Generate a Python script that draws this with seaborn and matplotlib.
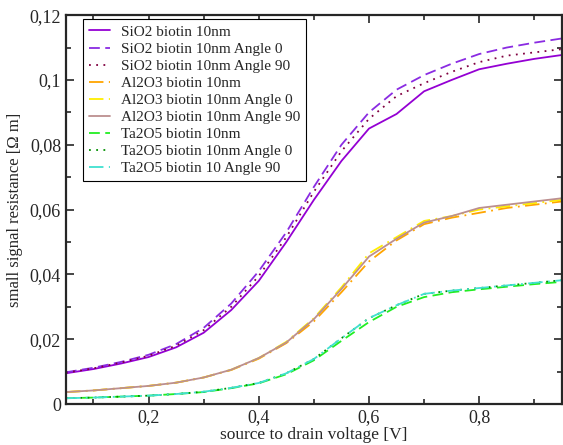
import numpy as np
import pandas as pd
import matplotlib
matplotlib.use("Agg")
import matplotlib.pyplot as plt
from matplotlib.ticker import MultipleLocator, FuncFormatter
import seaborn as sns

# voltage grid
voltage = [0.05, 0.10, 0.15, 0.20, 0.25, 0.30, 0.35, 0.40, 0.45, 0.50,
           0.55, 0.60, 0.65, 0.70, 0.75, 0.80, 0.85, 0.90, 0.95]

sio2 = [0.0095, 0.0108, 0.0125, 0.0145, 0.0175, 0.0220, 0.0290, 0.0380, 0.0500, 0.0630,
        0.0750, 0.0850, 0.0895, 0.0965, 0.1000, 0.1033, 0.1050, 0.1065, 0.1077]
sio2_a0 = [0.0098, 0.0112, 0.0130, 0.0152, 0.0185, 0.0235, 0.0310, 0.0410, 0.0530, 0.0670,
           0.0800, 0.0900, 0.0970, 0.1015, 0.1050, 0.1080, 0.1100, 0.1115, 0.1128]
sio2_a90 = [0.0097, 0.0110, 0.0128, 0.0149, 0.0180, 0.0228, 0.0300, 0.0395, 0.0515, 0.0655,
            0.0780, 0.0880, 0.0950, 0.0990, 0.1025, 0.1055, 0.1075, 0.1085, 0.1095]

al2o3 = [0.0037, 0.0042, 0.0049, 0.0056, 0.0066, 0.0082, 0.0105, 0.0140, 0.0188, 0.0255,
         0.0345, 0.0440, 0.0505, 0.0555, 0.0575, 0.0590, 0.0605, 0.0615, 0.0625]
al2o3_a0 = [0.0037, 0.0042, 0.0049, 0.0056, 0.0066, 0.0082, 0.0106, 0.0142, 0.0192, 0.0265,
            0.0360, 0.0465, 0.0515, 0.0565, 0.0580, 0.0600, 0.0610, 0.0620, 0.0630]
al2o3_a90 = [0.0037, 0.0042, 0.0049, 0.0056, 0.0066, 0.0082, 0.0106, 0.0142, 0.0190, 0.0262,
             0.0355, 0.0455, 0.0510, 0.0560, 0.0580, 0.0605, 0.0615, 0.0625, 0.0635]

ta2o5 = [0.0018, 0.0020, 0.0023, 0.0026, 0.0031, 0.0037, 0.0049, 0.0064, 0.0092, 0.0135,
         0.0195, 0.0253, 0.0300, 0.0330, 0.0345, 0.0354, 0.0362, 0.0370, 0.0377]
ta2o5_a0 = [0.0018, 0.0020, 0.0023, 0.0026, 0.0031, 0.0038, 0.0050, 0.0065, 0.0095, 0.0139,
            0.0203, 0.0265, 0.0305, 0.0340, 0.0350, 0.0358, 0.0366, 0.0374, 0.0382]
ta2o5_a90 = [0.0018, 0.0020, 0.0023, 0.0026, 0.0031, 0.0038, 0.0050, 0.0065, 0.0095, 0.0139,
             0.0203, 0.0265, 0.0305, 0.0340, 0.0350, 0.0358, 0.0366, 0.0374, 0.0382]

labels = ["SiO2 biotin 10nm", "SiO2 biotin 10nm Angle 0", "SiO2 biotin 10nm Angle 90",
          "Al2O3 biotin 10nm", "Al2O3 biotin 10nm Angle 0", "Al2O3 biotin 10nm Angle 90",
          "Ta2O5 biotin 10nm", "Ta2O5 biotin 10nm Angle 0", "Ta2O5 biotin 10 Angle 90"]
series = [sio2, sio2_a0, sio2_a90, al2o3, al2o3_a0, al2o3_a90, ta2o5, ta2o5_a0, ta2o5_a90]

colors = ["#9400d3", "#8a2be2", "#800040",
          "#ffa500", "#ffee00", "#bc8f8f",
          "#22ee22", "#009000", "#40e0d0"]
styles = ["-", (0, (6, 3)), (0, (1, 3)),
          (0, (8, 3, 1, 3)), (0, (8, 3, 1, 3)), "-",
          (0, (6, 3)), (0, (1, 3)), (0, (8, 3, 1, 3))]

sns.set_style("ticks")
plt.rcParams["font.family"] = ["Liberation Serif", "DejaVu Serif"]

fig = plt.figure(figsize=(5.63, 4.45), dpi=100)
ax = fig.add_axes([0.117, 0.092, 0.881, 0.874])

# draw order: Ta2O5 / Al2O3 first so SiO2 sits on top like the reference
order = [6, 7, 8, 3, 4, 5, 0, 1, 2]
for i in order:
    sns.lineplot(x=voltage, y=series[i], ax=ax, color=colors[i], linestyle=styles[i],
                 linewidth=1.3, label=labels[i])

h, l = ax.get_legend_handles_labels()
lookup = dict(zip(l, h))
leg = ax.legend([lookup[k] for k in labels], labels, loc="upper left",
                bbox_to_anchor=(0.034, 0.99), borderaxespad=0, fontsize=11,
                handlelength=1.4, labelspacing=0.22, borderpad=0.4, handletextpad=0.7,
                fancybox=False, edgecolor="black", framealpha=1)
leg.get_frame().set_linewidth(0.8)

ax.set_xlim(0.05, 0.95)
ax.set_ylim(0, 0.12)
ax.xaxis.set_major_locator(MultipleLocator(0.2))
ax.xaxis.set_minor_locator(MultipleLocator(0.1))
ax.yaxis.set_major_locator(MultipleLocator(0.02))
ax.yaxis.set_minor_locator(MultipleLocator(0.01))

comma = FuncFormatter(lambda v, p: ("%g" % round(v, 4)).replace(".", ","))
ax.xaxis.set_major_formatter(comma)
ax.yaxis.set_major_formatter(comma)

ax.tick_params(which="both", direction="in", top=True, right=True, labelsize=13)
ax.tick_params(which="major", length=6, width=1.2)
ax.tick_params(which="minor", length=3.5, width=1.2)
for s in ax.spines.values():
    s.set_linewidth(1.6)

ax.set_xlabel("source to drain voltage [V]", fontsize=12.5, labelpad=1)
ax.set_ylabel("small signal resistance [Ω m]", fontsize=12, labelpad=5)

fig.savefig("out.png", dpi=100)
